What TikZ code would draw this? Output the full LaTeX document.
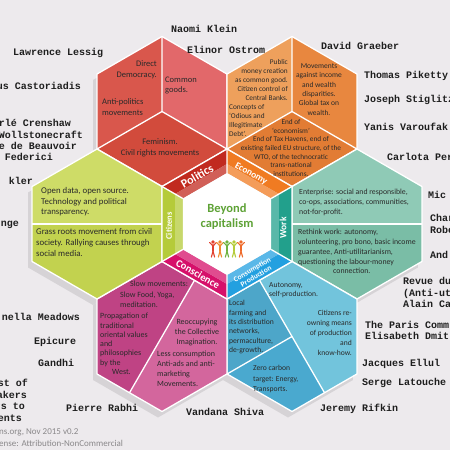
\documentclass[tikz,border=0pt]{standalone}
\usepackage{fontspec}
\setmainfont{Carlito}
\newfontfamily\tw{Liberation Mono}
\definecolor{bg}{HTML}{EDEAED}
\definecolor{shd}{HTML}{D6D3D6}
\definecolor{namec}{HTML}{1E1E1E}
\definecolor{txtc}{HTML}{2A2A2A}
\definecolor{copyc}{HTML}{8A888A}
\definecolor{pol1}{HTML}{D9574C}
\definecolor{pol2}{HTML}{E2686A}
\definecolor{pol3}{HTML}{D24B3C}
\definecolor{polb}{HTML}{C12A1F}
\definecolor{eco1}{HTML}{EEA05C}
\definecolor{eco2}{HTML}{E8873F}
\definecolor{eco3}{HTML}{E27C34}
\definecolor{ecob}{HTML}{F07B22}
\definecolor{wrk1}{HTML}{8FCAB6}
\definecolor{wrk2}{HTML}{7ABDA6}
\definecolor{wrkb}{HTML}{22A08C}
\definecolor{con1}{HTML}{4DA6C9}
\definecolor{con2}{HTML}{72C4DC}
\definecolor{con3}{HTML}{4AA9CF}
\definecolor{conb}{HTML}{23A0E0}
\definecolor{csc1}{HTML}{BF4384}
\definecolor{csc2}{HTML}{D3669D}
\definecolor{cscb}{HTML}{D6106A}
\definecolor{cit1}{HTML}{CEDC67}
\definecolor{cit2}{HTML}{C2D24F}
\definecolor{citb}{HTML}{B5CB3A}
\definecolor{beyond}{HTML}{5EA236}
\definecolor{figA}{HTML}{E2412F}
\definecolor{figB}{HTML}{F08A2E}
\definecolor{figC}{HTML}{6DB33F}
\definecolor{figD}{HTML}{B5CC3A}
\definecolor{figE}{HTML}{EE6A2A}
\tikzset{
  nm/.style={font=\tw\bfseries\fontsize{10}{11}\selectfont, text=namec, inner sep=0pt},
  wl/.style={draw=white, line width=1.3pt, line join=round},
  ptx/.style={inner sep=0pt, text=txtc},
  blab/.style={text=white, inner sep=0pt},
  cpy/.style={font=\fontsize{9}{10}\selectfont, text=copyc, inner sep=0pt, anchor=west},
}
\begin{document}
\begin{tikzpicture}[x=1pt,y=-1pt]
\fill[bg] (0,0) rectangle (450,450);
\useasboundingbox (0,0) rectangle (450,450);
\clip (0,0) rectangle (450,450);
% shadow
\foreach \cx/\cy in {162/111.5, 292/111.5, 357/224, 292/336.5, 162/336.5, 97/224, 227/224}{
  \fill[shd, shift={(\cx-4,\cy+6)}] (0,-75) -- (64.95,-37.5) -- (64.95,37.5) -- (0,75) -- (-64.95,37.5) -- (-64.95,-37.5) -- cycle;
}
% Politics
\begin{scope}[shift={(162,111.5)}]
\fill[pol1] (0,-75) -- (-64.95,-37.5) -- (-64.95,37.5) -- (0,0) -- cycle;
\fill[pol2] (0,-75) -- (64.95,-37.5) -- (64.95,37.5) -- (0,0) -- cycle;
\fill[pol3] (0,0) -- (-64.95,37.5) -- (0,75) -- (64.95,37.5) -- cycle;
\draw[wl] (0,-75) -- (0,0) -- (-64.95,37.5) (0,0) -- (64.95,37.5);
\draw[wl] (0,-75) -- (64.95,-37.5) -- (64.95,37.5) -- (0,75) -- (-64.95,37.5) -- (-64.95,-37.5) -- cycle;
\end{scope}
% Economy
\begin{scope}[shift={(292,111.5)}]
\fill[eco1] (0,-75) -- (-64.95,-37.5) -- (-64.95,37.5) -- (0,0) -- cycle;
\fill[eco2] (0,-75) -- (64.95,-37.5) -- (64.95,37.5) -- (0,0) -- cycle;
\fill[eco3] (0,0) -- (-64.95,37.5) -- (0,75) -- (64.95,37.5) -- cycle;
\draw[wl] (0,-75) -- (0,0) -- (-64.95,37.5) (0,0) -- (64.95,37.5);
\draw[wl] (0,-75) -- (64.95,-37.5) -- (64.95,37.5) -- (0,75) -- (-64.95,37.5) -- (-64.95,-37.5) -- cycle;
\end{scope}
% Work
\begin{scope}[shift={(357,224)}]
\fill[wrk1] (-64.95,0) -- (-64.95,-37.5) -- (0,-75) -- (64.95,-37.5) -- (64.95,0) -- cycle;
\fill[wrk2] (-64.95,0) -- (-64.95,37.5) -- (0,75) -- (64.95,37.5) -- (64.95,0) -- cycle;
\draw[wl] (-64.95,0) -- (64.95,0);
\draw[wl] (0,-75) -- (64.95,-37.5) -- (64.95,37.5) -- (0,75) -- (-64.95,37.5) -- (-64.95,-37.5) -- cycle;
\end{scope}
% Consumption
\begin{scope}[shift={(292,336.5)}]
\fill[con1] (-32.5,-56.25) -- (-64.95,-37.5) -- (-64.95,37.5) -- (0,0) -- cycle;
\fill[con2] (-32.5,-56.25) -- (0,-75) -- (64.95,-37.5) -- (64.95,37.5) -- (32.5,56.25) -- (0,0) -- cycle;
\fill[con3] (0,0) -- (32.5,56.25) -- (0,75) -- (-64.95,37.5) -- cycle;
\draw[wl] (-32.5,-56.25) -- (32.5,56.25) (0,0) -- (-64.95,37.5);
\draw[wl] (0,-75) -- (64.95,-37.5) -- (64.95,37.5) -- (0,75) -- (-64.95,37.5) -- (-64.95,-37.5) -- cycle;
\end{scope}
% Conscience
\begin{scope}[shift={(162,336.5)}]
\fill[csc1] (32.5,-56.25) -- (0,-75) -- (-64.95,-37.5) -- (-64.95,37.5) -- (-32.5,56.25) -- cycle;
\fill[csc2] (32.5,-56.25) -- (64.95,-37.5) -- (64.95,37.5) -- (0,75) -- (-32.5,56.25) -- cycle;
\draw[wl] (32.5,-56.25) -- (-32.5,56.25);
\draw[wl] (0,-75) -- (64.95,-37.5) -- (64.95,37.5) -- (0,75) -- (-64.95,37.5) -- (-64.95,-37.5) -- cycle;
\end{scope}
% Citizens
\begin{scope}[shift={(97,224)}]
\fill[cit1] (-64.95,0) -- (-64.95,-37.5) -- (0,-75) -- (64.95,-37.5) -- (64.95,0) -- cycle;
\fill[cit2] (-64.95,0) -- (-64.95,37.5) -- (0,75) -- (64.95,37.5) -- (64.95,0) -- cycle;
\draw[wl] (-64.95,0) -- (64.95,0);
\draw[wl] (0,-75) -- (64.95,-37.5) -- (64.95,37.5) -- (0,75) -- (-64.95,37.5) -- (-64.95,-37.5) -- cycle;
\end{scope}
% central band
\begin{scope}[shift={(227,224)}]
\fill[polb] (-64.95,-37.5) -- (0,-75) -- (0,-60) -- (-51.96,-30) -- cycle;
\fill[polb!75!white] (-51.96,-30) -- (0,-60) -- (0,-51) -- (-44.17,-25.5) -- cycle;
\fill[ecob] (0,-75) -- (64.95,-37.5) -- (51.96,-30) -- (0,-60) -- cycle;
\fill[ecob!75!white] (0,-60) -- (51.96,-30) -- (44.17,-25.5) -- (0,-51) -- cycle;
\fill[wrkb] (64.95,-37.5) -- (64.95,37.5) -- (51.96,30) -- (51.96,-30) -- cycle;
\fill[wrkb!75!white] (51.96,-30) -- (51.96,30) -- (44.17,25.5) -- (44.17,-25.5) -- cycle;
\fill[conb] (64.95,37.5) -- (0,75) -- (0,60) -- (51.96,30) -- cycle;
\fill[conb!75!white] (51.96,30) -- (0,60) -- (0,51) -- (44.17,25.5) -- cycle;
\fill[cscb] (0,75) -- (-64.95,37.5) -- (-51.96,30) -- (0,60) -- cycle;
\fill[cscb!75!white] (0,60) -- (-51.96,30) -- (-44.17,25.5) -- (0,51) -- cycle;
\fill[citb] (-64.95,37.5) -- (-64.95,-37.5) -- (-51.96,-30) -- (-51.96,30) -- cycle;
\fill[citb!75!white] (-51.96,30) -- (-51.96,-30) -- (-44.17,-25.5) -- (-44.17,25.5) -- cycle;
\fill[white] (0,-51) -- (44.17,-25.5) -- (44.17,25.5) -- (0,51) -- (-44.17,25.5) -- (-44.17,-25.5) -- cycle;
\draw[wl] (0,-51) -- (0,-75) (44.17,-25.5) -- (64.95,-37.5) (44.17,25.5) -- (64.95,37.5)
  (0,51) -- (0,75) (-44.17,25.5) -- (-64.95,37.5) (-44.17,-25.5) -- (-64.95,-37.5);
\draw[wl] (0,-75) -- (64.95,-37.5) -- (64.95,37.5) -- (0,75) -- (-64.95,37.5) -- (-64.95,-37.5) -- cycle;
\end{scope}
% band labels
\node[blab, rotate=30, font=\bfseries\fontsize{12}{13}\selectfont] (lPol) at (197,176) {Politics};
\node[blab, rotate=-30, font=\bfseries\fontsize{9.5}{10}\selectfont] (lEco) at (251,174) {Economy};
\node[blab, rotate=90, font=\bfseries\fontsize{9.5}{10}\selectfont] (lWork) at (283,228) {Work};
\node[blab, rotate=30, align=center, font=\bfseries\fontsize{7.5}{7.5}\selectfont] (lCons) at (254,273) {Consumption\\Production};
\node[blab, rotate=-30, font=\bfseries\fontsize{10.5}{11}\selectfont] (lConsc) at (198,274) {Conscience};
\node[blab, rotate=90, font=\bfseries\fontsize{8.5}{9}\selectfont] (lCit) at (169,226) {Citizens};
% centre
\node[text=beyond, align=center, inner sep=0pt, font=\bfseries\fontsize{12.5}{15}\selectfont] (centre) at (227,217) {Beyond\\capitalism};
\foreach \x/\c in {213/figA, 220/figB, 227/figC, 234/figD, 241/figE}{
  \fill[\c] (\x,242) circle (1.8);
  \draw[\c, line width=1.7pt, line cap=round] (\x,245) -- (\x,251);
  \draw[\c, line width=1.1pt, line cap=round] (\x,251) -- (\x-1.6,257) (\x,251) -- (\x+1.6,257);
  \draw[\c, line width=1.1pt, line cap=round] (\x-3.4,242.5) -- (\x,246) -- (\x+3.4,242.5);
}
% Politics texts
\begin{scope}[every node/.style={ptx, font=\fontsize{8.5}{10.5}\selectfont}]
\node[anchor=north east, align=right] (pA) at (157,60.7) {Direct\\Democracy.};
\node[anchor=north west, align=left] (pB) at (102,98.7) {Anti-politics\\movements};
\node[anchor=north west, align=left] (pC) at (165,76.7) {Common\\goods.};
\node[anchor=north, align=center] (pD) at (160,138.7) {Feminism.\\Civil rights movements};
\end{scope}
% Economy texts
\begin{scope}[every node/.style={ptx, font=\fontsize{7.3}{9}\selectfont}]
\node[anchor=north east, align=right] (eA) at (288,59.3) {Public\\money creation\\as common good.\\Citizen control of\\Central Banks.};
\node[anchor=north west, align=left] (eB) at (229,104.3) {Concepts of\\‘Odious and\\Illegitimate\\Debt’.};
\node[anchor=north, align=center, font=\fontsize{7.5}{9.4}\selectfont] (eC) at (319,63.3) {Movements\\against income\\and wealth\\disparities.\\Global tax on\\wealth.};
\node[anchor=north, align=center, font=\fontsize{7.3}{8.6}\selectfont] (eD) at (291,119.5) {End of\\‘economism’\\End of Tax Havens, end of\\existing failed EU structure, of the\\WTO, of the technocratic\\trans-national\\institutions.};
\end{scope}
% Work texts
\begin{scope}[every node/.style={ptx, font=\fontsize{7.8}{9.8}\selectfont}]
\node[anchor=north west, align=left] (wA) at (299,189) {Enterprise: social and responsible,\\co-ops, associations, communities,\\not-for-profit.};
\node[anchor=north west, align=left] (wB) at (298,229) {Rethink work: autonomy,\\volunteering, pro bono, basic income\\guarantee, Anti-utilitarianism,\\questioning the labour-money\\\hspace*{35pt}connection.};
\end{scope}
% Consumption texts
\begin{scope}[every node/.style={ptx, font=\fontsize{7.6}{9.6}\selectfont}]
\node[anchor=north west, align=left] (cA) at (269,282.2) {Autonomy,\\self-production.};
\node[anchor=north east, align=right, font=\fontsize{7.6}{10}\selectfont] (cB) at (352,310.2) {Citizens re-\\owning means\\of production\\and\\know-how.};
\node[anchor=north west, align=left, font=\fontsize{7.6}{9.4}\selectfont] (cC) at (229,300.2) {Local\\farming and\\its distribution\\networks,\\permaculture,\\de-growth.};
\node[anchor=north west, align=left, font=\fontsize{7.6}{10.5}\selectfont] (cD) at (253,365.2) {Zero carbon\\target: Energy,\\Transports.};
\end{scope}
% Conscience texts
\begin{scope}[every node/.style={ptx, font=\fontsize{8}{10}\selectfont}]
\node[anchor=north west, align=left, font=\fontsize{8}{10.5}\selectfont] (sA) at (120,281) {\hspace*{10pt}Slow movements:\\Slow Food, Yoga,\\meditation.};
\node[anchor=north west, align=left, font=\fontsize{8}{9.3}\selectfont] (sB) at (100,313) {Propagation of\\traditional\\oriental values\\and\\philosophies\\by the\\\hspace*{12pt}West.};
\node[anchor=north, align=center] (sC) at (197,319) {Reoccupying\\the Collective\\Imagination.};
\node[anchor=north west, align=left] (sD) at (157,351) {Less consumption\\Anti-ads and anti-\\marketing\\Movements.};
\end{scope}
% Citizens texts
\begin{scope}[every node/.style={ptx, font=\fontsize{8.8}{10.5}\selectfont}]
\node[anchor=north west, align=left] (zA) at (41,187.6) {Open data, open source.\\Technology and political\\transparency.};
\node[anchor=north west, align=left, font=\fontsize{8.8}{11}\selectfont] (zB) at (36,228.6) {Grass roots movement from civil\\society. Rallying causes through\\social media.};
\end{scope}
% names
\node[nm, anchor=west] (n1) at (13,53) {Lawrence Lessig};
\node[nm, anchor=east] (n2) at (81,86) {us Castoriadis};
\node[nm, anchor=east] (n3) at (71,123) {rlé Crenshaw};
\node[nm, anchor=east] (n4) at (83,135) {Wollstonecraft};
\node[nm, anchor=east] (n5) at (77,146) {e de Beauvoir};
\node[nm, anchor=east] (n6) at (53,157) {a Federici};
\node[nm, anchor=east] (n7) at (33,181) {kler};
\node[nm, anchor=east] (n8) at (19,225) {nge};
\node[nm, anchor=east] (n9) at (80,317) {nella Meadows};
\node[nm, anchor=west] (n10) at (34,342) {Epicure};
\node[nm, anchor=west] (n11) at (38,363) {Gandhi};
\node[nm, anchor=east] (n12) at (28,383) {st of};
\node[nm, anchor=east] (n13) at (27,395) {akers};
\node[nm, anchor=east] (n14) at (25,406) {rs to};
\node[nm, anchor=east] (n15) at (22,418) {ents};
\node[nm, anchor=west] (n16) at (66,408) {Pierre Rabhi};
\node[nm, anchor=west] (n17) at (171,29) {Naomi Klein};
\node[nm, anchor=west] (n18) at (187,50) {Elinor Ostrom};
\node[nm, anchor=west] (n19) at (321,46) {David Graeber};
\node[nm, anchor=west] (n20) at (364,76) {Thomas Piketty};
\node[nm, anchor=west] (n21) at (364,100) {Joseph Stiglitz};
\node[nm, anchor=west] (n22) at (364,127) {Yanis Varoufak};
\node[nm, anchor=west] (n23) at (387,157) {Carlota Per};
\node[nm, anchor=west] (n24) at (428,195) {Mic};
\node[nm, anchor=west] (n25) at (430,218) {Char};
\node[nm, anchor=west] (n26) at (430,230) {Robe};
\node[nm, anchor=west] (n27) at (430,255) {And};
\node[nm, anchor=west] (n28) at (403,281) {Revue du};
\node[nm, anchor=west] (n29) at (403,294) {(Anti-ut};
\node[nm, anchor=west] (n30) at (403,304) {Alain Ca};
\node[nm, anchor=west] (n31) at (365,325) {The Paris Comm};
\node[nm, anchor=west] (n32) at (365,336) {Elisabeth Dmit};
\node[nm, anchor=west] (n33) at (362,364) {Jacques Ellul};
\node[nm, anchor=west] (n34) at (362,383) {Serge Latouche};
\node[nm, anchor=west] (n35) at (320,409) {Jeremy Rifkin};
\node[nm, anchor=west] (n36) at (186,412) {Vandana Shiva};
\node[cpy] (cp1) at (-1,432) {ns.org, Nov 2015 v0.2};
\node[cpy] (cp2) at (-1,443) {ense: Attribution-NonCommercial};
\end{tikzpicture}
\end{document}
